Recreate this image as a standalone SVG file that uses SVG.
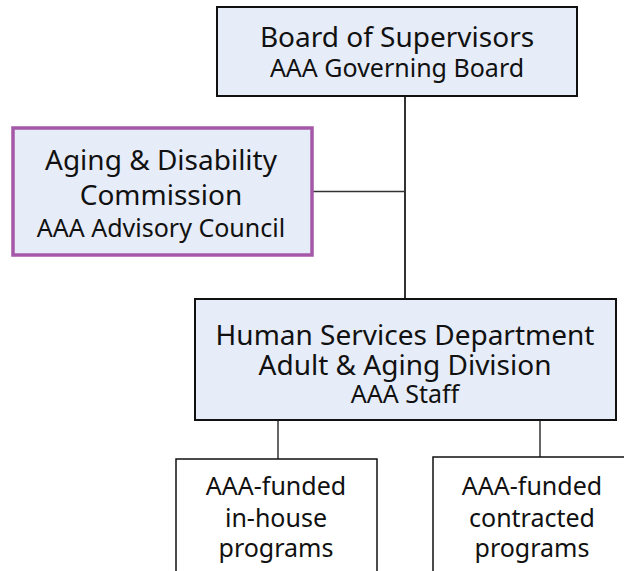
<svg xmlns="http://www.w3.org/2000/svg" width="624" height="571" viewBox="0 0 624 571">
<style>
text{font-family:"Noto Sans","Open Sans","DejaVu Sans",sans-serif;fill:#111;text-anchor:middle}
.big{font-size:28px}
.sub{font-size:25px}
.box{fill:#e6ecf8;stroke:#111;stroke-width:2}
.adv{fill:#e6ecf8;stroke:#a558a8;stroke-width:3.5}
.prog{fill:#fff;stroke:#111;stroke-width:1.5}
.ln{stroke:#333;fill:none}
</style>
<rect width="624" height="571" fill="#fff"/>
<g id="connectors">
<line class="ln" x1="405" y1="96" x2="405" y2="299" stroke-width="2"/>
<line class="ln" x1="312" y1="191.5" x2="405" y2="191.5" stroke-width="1.5"/>
<line class="ln" x1="278" y1="420" x2="278" y2="459" stroke-width="1.5"/>
<line class="ln" x1="540" y1="420" x2="540" y2="457" stroke-width="1.5"/>
</g>
<g id="board">
<rect class="box" x="217" y="7" width="360" height="89"/>
<text class="big" x="397" y="47">Board of Supervisors</text>
<text class="sub" x="397" y="77">AAA Governing Board</text>
</g>
<g id="commission">
<rect class="adv" x="13" y="128" width="299" height="127"/>
<text class="big" x="161" y="170">Aging &amp; Disability</text>
<text class="big" x="161" y="205">Commission</text>
<text class="sub" x="161" y="237">AAA Advisory Council</text>
</g>
<g id="hsd">
<rect class="box" x="195" y="299" width="421" height="121"/>
<text class="big" x="405" y="345">Human Services Department</text>
<text class="big" x="405" y="375">Adult &amp; Aging Division</text>
<text class="sub" x="405" y="403">AAA Staff</text>
</g>
<g id="inhouse">
<rect class="prog" x="176" y="459" width="201" height="130"/>
<text class="sub" x="276" y="495">AAA-funded</text>
<text class="sub" x="276" y="527">in-house</text>
<text class="sub" x="276" y="557">programs</text>
</g>
<g id="contracted">
<rect class="prog" x="433" y="457" width="210" height="130"/>
<text class="sub" x="532" y="495">AAA-funded</text>
<text class="sub" x="532" y="527">contracted</text>
<text class="sub" x="532" y="557">programs</text>
</g>
</svg>
